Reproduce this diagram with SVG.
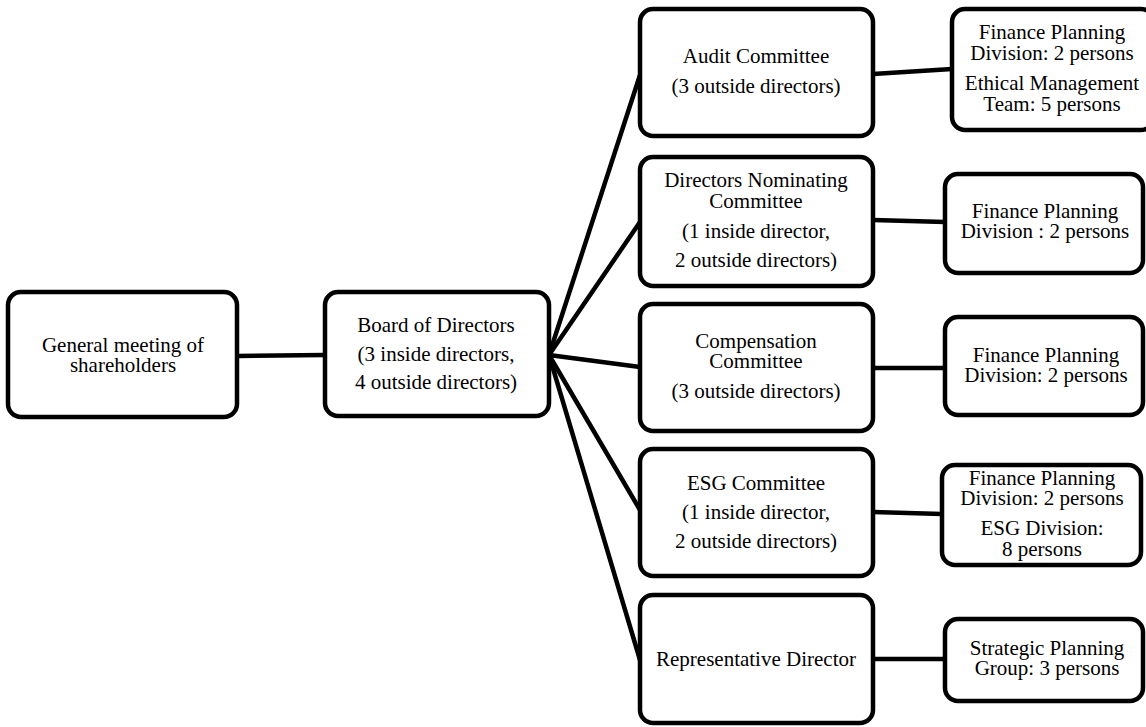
<svg xmlns="http://www.w3.org/2000/svg" width="1146" height="727" viewBox="0 0 1146 727" font-family="'Liberation Serif', 'Times New Roman', Times, 'DejaVu Serif', serif">
<style>
.box{fill:#fff;stroke:#000;stroke-width:4.5}
.ln{stroke:#000;stroke-width:4.5;fill:none;stroke-linecap:round}
.t{font-family:'Liberation Serif', 'Times New Roman', Times, 'DejaVu Serif', serif;font-size:21px;fill:#000;text-anchor:middle}
</style>
<rect width="1146" height="727" fill="#fff"/>
<g id="connectors">
<line class="ln" x1="237" y1="356" x2="325" y2="355"/>
<line class="ln" x1="549" y1="355" x2="640" y2="75"/>
<line class="ln" x1="549" y1="355" x2="640" y2="222"/>
<line class="ln" x1="549" y1="355" x2="640" y2="367"/>
<line class="ln" x1="549" y1="355" x2="640" y2="510"/>
<line class="ln" x1="549" y1="355" x2="640" y2="660"/>
<line class="ln" x1="873" y1="74" x2="952" y2="69"/>
<line class="ln" x1="873" y1="220" x2="945" y2="222"/>
<line class="ln" x1="873" y1="368" x2="945" y2="368"/>
<line class="ln" x1="873" y1="512" x2="942" y2="514"/>
<line class="ln" x1="873" y1="659" x2="945" y2="659"/>
</g>
<g id="general">
<rect class="box" x="8" y="292" width="229" height="125" rx="13"/>
<text class="t" x="123" y="352">General meeting of</text>
<text class="t" x="123" y="372">shareholders</text>
</g>
<g id="board">
<rect class="box" x="325" y="292" width="224" height="124" rx="13"/>
<text class="t" x="436" y="332">Board of Directors</text>
<text class="t" x="436" y="361">(3 inside directors,</text>
<text class="t" x="436" y="389">4 outside directors)</text>
</g>
<g id="audit">
<rect class="box" x="640" y="9" width="233" height="127" rx="13"/>
<text class="t" x="756" y="63">Audit Committee</text>
<text class="t" x="756" y="93">(3 outside directors)</text>
</g>
<g id="nominating">
<rect class="box" x="640" y="157" width="233" height="129" rx="13"/>
<text class="t" x="756" y="187">Directors Nominating</text>
<text class="t" x="756" y="208">Committee</text>
<text class="t" x="756" y="238">(1 inside director,</text>
<text class="t" x="756" y="267">2 outside directors)</text>
</g>
<g id="compensation">
<rect class="box" x="640" y="304" width="233" height="127" rx="13"/>
<text class="t" x="756" y="348">Compensation</text>
<text class="t" x="756" y="368">Committee</text>
<text class="t" x="756" y="398">(3 outside directors)</text>
</g>
<g id="esg">
<rect class="box" x="640" y="449" width="233" height="127" rx="13"/>
<text class="t" x="756" y="490">ESG Committee</text>
<text class="t" x="756" y="519">(1 inside director,</text>
<text class="t" x="756" y="548">2 outside directors)</text>
</g>
<g id="representative">
<rect class="box" x="640" y="595" width="233" height="128" rx="13"/>
<text class="t" x="756" y="666">Representative Director</text>
</g>
<g id="audit-support">
<rect class="box" x="952" y="9" width="202" height="121" rx="13"/>
<text class="t" x="1052" y="39">Finance Planning</text>
<text class="t" x="1052" y="60">Division: 2 persons</text>
<text class="t" x="1052" y="90">Ethical Management</text>
<text class="t" x="1052" y="111">Team: 5 persons</text>
</g>
<g id="nominating-support">
<rect class="box" x="945" y="174" width="198" height="99" rx="13"/>
<text class="t" x="1045" y="218">Finance Planning</text>
<text class="t" x="1045" y="238">Division : 2 persons</text>
</g>
<g id="compensation-support">
<rect class="box" x="945" y="317" width="198" height="98" rx="13"/>
<text class="t" x="1046" y="362">Finance Planning</text>
<text class="t" x="1046" y="382">Division: 2 persons</text>
</g>
<g id="esg-support">
<rect class="box" x="942" y="465" width="199" height="100" rx="13"/>
<text class="t" x="1042" y="485">Finance Planning</text>
<text class="t" x="1042" y="505">Division: 2 persons</text>
<text class="t" x="1042" y="535">ESG Division:</text>
<text class="t" x="1042" y="556">8 persons</text>
</g>
<g id="representative-support">
<rect class="box" x="945" y="619" width="198" height="82" rx="13"/>
<text class="t" x="1047" y="655">Strategic Planning</text>
<text class="t" x="1047" y="675">Group: 3 persons</text>
</g>
</svg>
